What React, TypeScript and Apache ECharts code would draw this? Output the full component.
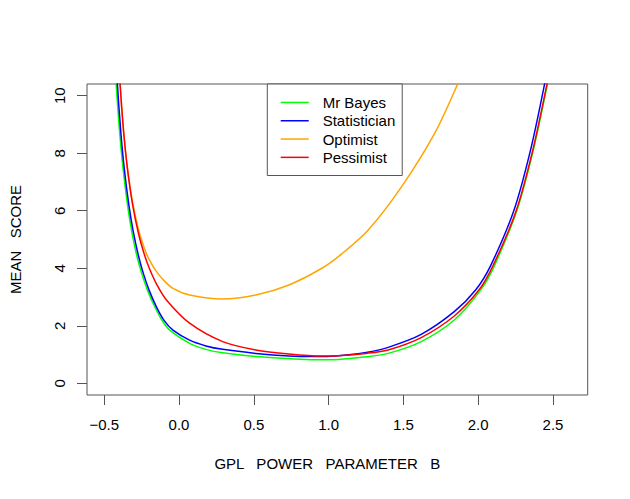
import React, { useEffect, useRef } from "react";
import * as echarts from "echarts";

const seriesNames = ["Mr Bayes", "Statistician", "Optimist", "Pessimist"];
const seriesColors = ["#00FF00", "#0000FF", "#FFA500", "#FF0000"];

const xTicks = [-0.5, 0, 0.5, 1, 1.5, 2, 2.5];
const yTicks = [0, 2, 4, 6, 8, 10];

const mrBayes: [number, number][] = [
  [-0.44, 12.4], [-0.42, 10.41], [-0.398, 8.8], [-0.375, 7.52], [-0.345, 6.23],
  [-0.316, 5.28], [-0.284, 4.48], [-0.25, 3.83], [-0.211, 3.24], [-0.162, 2.66],
  [-0.115, 2.2], [-0.062, 1.85], [0.071, 1.39], [0.18, 1.18], [0.292, 1.06],
  [0.513, 0.93], [0.735, 0.86], [0.9, 0.82], [1.066, 0.83], [1.25, 0.92],
  [1.398, 1.04], [1.619, 1.45], [1.84, 2.2], [2.017, 3.25], [2.105, 4.05],
  [2.258, 6.0], [2.368, 8.1], [2.463, 10.41], [2.49, 11.2],
];

const statistician: [number, number][] = [
  [-0.432, 12.4], [-0.412, 10.41], [-0.39, 8.8], [-0.367, 7.52], [-0.336, 6.23],
  [-0.306, 5.28], [-0.273, 4.48], [-0.239, 3.83], [-0.2, 3.24], [-0.151, 2.66],
  [-0.1, 2.19], [-0.04, 1.85], [0.071, 1.5], [0.18, 1.3], [0.292, 1.18],
  [0.513, 1.04], [0.735, 0.95], [0.9, 0.93], [1.066, 0.96], [1.25, 1.07],
  [1.398, 1.25], [1.619, 1.7], [1.84, 2.49], [1.984, 3.25], [2.084, 4.1],
  [2.238, 6.0], [2.349, 8.09], [2.444, 10.41], [2.47, 11.2],
];

const optimist: [number, number][] = [
  [-0.415, 12.5], [-0.394, 10.41], [-0.37, 8.73], [-0.345, 7.5], [-0.31, 6.29],
  [-0.27, 5.33], [-0.23, 4.67], [-0.2, 4.31], [-0.155, 3.92], [-0.1, 3.57],
  [-0.04, 3.3], [0.071, 3.07], [0.292, 2.93], [0.513, 3.07], [0.735, 3.42],
  [0.955, 4.0], [1.088, 4.5], [1.265, 5.33], [1.486, 6.82], [1.707, 8.67],
  [1.863, 10.41], [1.93, 11.3],
];

const pessimist: [number, number][] = [
  [-0.415, 12.5], [-0.394, 10.41], [-0.37, 8.73], [-0.345, 7.47], [-0.31, 6.2],
  [-0.27, 5.19], [-0.23, 4.45], [-0.2, 4.02], [-0.15, 3.45], [-0.084, 2.9],
  [0.071, 2.09], [0.292, 1.45], [0.513, 1.16], [0.735, 1.02], [0.955, 0.95],
  [1.066, 0.96], [1.25, 1.04], [1.398, 1.16], [1.619, 1.59], [1.84, 2.34],
  [2.006, 3.25], [2.1, 4.1], [2.254, 6.0], [2.364, 8.09], [2.46, 10.41],
  [2.487, 11.2],
];

const allData = [mrBayes, statistician, optimist, pessimist];

const FONT = "'Liberation Sans', Arial, Helvetica, sans-serif";
const AXIS_COLOR = "#555";

export default function App() {
  const ref = useRef<HTMLDivElement>(null);

  useEffect(() => {
    if (!ref.current) return;
    const chart = echarts.init(ref.current, undefined, { renderer: "svg" });
    chart.setOption({
      animation: false,
      backgroundColor: "#ffffff",
      textStyle: { fontFamily: FONT },
      grid: {
        left: 83.3,
        top: 84,
        width: 504.4,
        height: 311,
        show: true,
        borderColor: AXIS_COLOR,
        borderWidth: 1,
        backgroundColor: "transparent",
        containLabel: false,
      },
      legend: {
        orient: "vertical",
        left: 267.3,
        top: 84,
        padding: [9.3, 7, 9, 13.4],
        borderColor: AXIS_COLOR,
        borderWidth: 1,
        backgroundColor: "#ffffff",
        icon: "rect",
        itemWidth: 28,
        itemHeight: 1.5,
        itemGap: 0,
        data: seriesNames,
        textStyle: {
          fontSize: 15,
          lineHeight: 18.3,
          color: "#000",
          fontFamily: FONT,
          padding: [0, 0, 0, 9],
        },
      },
      xAxis: {
        type: "value",
        min: -0.615,
        max: 2.732,
        name: "GPL   POWER   PARAMETER   B",
        nameLocation: "middle",
        nameGap: 61,
        nameTextStyle: {
          fontSize: 15,
          color: "#000",
          fontFamily: FONT,
          padding: [0, 20, 0, 0],
        },
        axisLine: { show: false, onZero: false },
        splitLine: { show: false },
        axisTick: {
          show: true,
          length: 10,
          customValues: xTicks,
          lineStyle: { color: AXIS_COLOR, width: 1 },
        },
        axisLabel: {
          customValues: xTicks,
          fontSize: 15,
          color: "#000",
          fontFamily: FONT,
          margin: 22,
          formatter: (v: number) =>
            (v < 0 ? "\u2212" : "") + Math.abs(v).toFixed(1),
        },
      },
      yAxis: {
        type: "value",
        min: -0.407,
        max: 10.407,
        name: "MEAN   SCORE",
        nameLocation: "middle",
        nameGap: 64,
        nameTextStyle: { fontSize: 15, color: "#000", fontFamily: FONT },
        axisLine: { show: false, onZero: false },
        splitLine: { show: false },
        axisTick: {
          show: true,
          length: 10,
          customValues: yTicks,
          lineStyle: { color: AXIS_COLOR, width: 1 },
        },
        axisLabel: {
          customValues: yTicks,
          rotate: 90,
          fontSize: 15,
          color: "#000",
          fontFamily: FONT,
          margin: 20,
          formatter: (v: number) => String(v),
        },
      },
      series: seriesNames.map((name, i) => ({
        name,
        type: "line",
        data: allData[i],
        symbol: "none",
        smooth: 0.3,
        clip: true,
        lineStyle: { color: seriesColors[i], width: 1.5 },
        itemStyle: { color: seriesColors[i] },
      })),
    });
    return () => chart.dispose();
  }, []);

  return (
    <div
      ref={ref}
      style={{ position: "fixed", left: 0, top: 0, width: 630, height: 499 }}
    />
  );
}
